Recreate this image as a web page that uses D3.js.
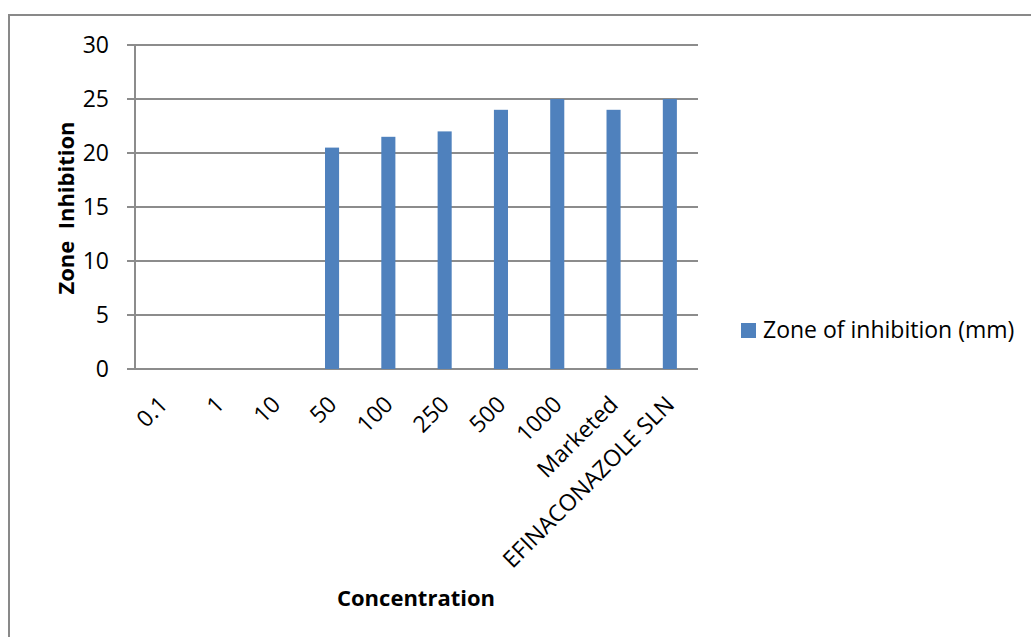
<!DOCTYPE html>
<html>
<head>
<meta charset="utf-8">
<script src="https://cdn.jsdelivr.net/npm/d3@7"></script>
<style>
  html, body { margin: 0; padding: 0; background: #fff; }
  svg { display: block; }
  text { font-family: "Open Sans", "Noto Sans", sans-serif; fill: #000; }
</style>
</head>
<body>
<svg id="chart" width="1031" height="637"></svg>
<script>
// Zone of inhibition by concentration
const categories = ["0.1", "1", "10", "50", "100", "250", "500", "1000", "Marketed", "EFINACONAZOLE SLN"];
const zoneValues = [0, 0, 0, 20.5, 21.5, 22, 24, 25, 24, 25];
const yTicks = [0, 5, 10, 15, 20, 25, 30];
const seriesName = "Zone of inhibition (mm)";

const svg = d3.select("#chart");
const plot = { left: 135, right: 698, top: 45, bottom: 369 };

// outer frame (open at right and bottom, clipped by the viewport)
svg.append("rect")
  .attr("x", 9).attr("y", 15)
  .attr("width", 1040).attr("height", 640)
  .attr("fill", "none").attr("stroke", "#898989").attr("stroke-width", 2);

const x = d3.scaleBand().domain(categories).range([plot.left, plot.right]).paddingInner(0.75).paddingOuter(0.375);
const y = d3.scaleLinear().domain([0, 30]).range([plot.bottom, plot.top]);

// horizontal gridlines with tick marks extending left
svg.append("g").selectAll("line").data(yTicks).join("line")
  .attr("x1", plot.left - 8).attr("x2", plot.right)
  .attr("y1", d => y(d)).attr("y2", d => y(d))
  .attr("stroke", "#8c8c8c").attr("stroke-width", 2);

// y axis line
svg.append("line")
  .attr("x1", plot.left).attr("x2", plot.left)
  .attr("y1", plot.top).attr("y2", plot.bottom)
  .attr("stroke", "#8c8c8c").attr("stroke-width", 2);

// y tick labels
svg.append("g").selectAll("text").data(yTicks).join("text")
  .attr("x", 109).attr("y", d => y(d))
  .attr("dy", "0.36em").attr("text-anchor", "end")
  .attr("font-size", 23).text(d => d);

// bars
svg.append("g").selectAll("rect").data(categories).join("rect")
  .attr("x", d => x(d))
  .attr("width", x.bandwidth())
  .attr("y", (d, i) => y(zoneValues[i]))
  .attr("height", (d, i) => y(0) - y(zoneValues[i]))
  .attr("fill", "#4F81BD");

// rotated category labels
svg.append("g").selectAll("text").data(categories).join("text")
  .attr("text-anchor", "end")
  .attr("font-size", 23)
  .attr("transform", d => `translate(${x(d) + x.bandwidth() / 2 + 6},${plot.bottom + 37}) rotate(-45)`)
  .text(d => d);

// axis titles
svg.append("text")
  .attr("transform", `translate(74,208) rotate(-90)`)
  .attr("text-anchor", "middle").attr("font-size", 22).attr("font-weight", "bold")
  .attr("xml:space", "preserve")
  .text("Zone  Inhibition");

svg.append("text")
  .attr("x", 416).attr("y", 606)
  .attr("text-anchor", "middle").attr("font-size", 22).attr("font-weight", "bold")
  .text("Concentration");

// legend
const legend = svg.append("g").attr("transform", "translate(741,323)");
legend.append("rect").attr("width", 15).attr("height", 15).attr("fill", "#4F81BD");
legend.append("text").attr("x", 22).attr("y", 15)
  .attr("font-size", 23).text(seriesName);
</script>
</body>
</html>
